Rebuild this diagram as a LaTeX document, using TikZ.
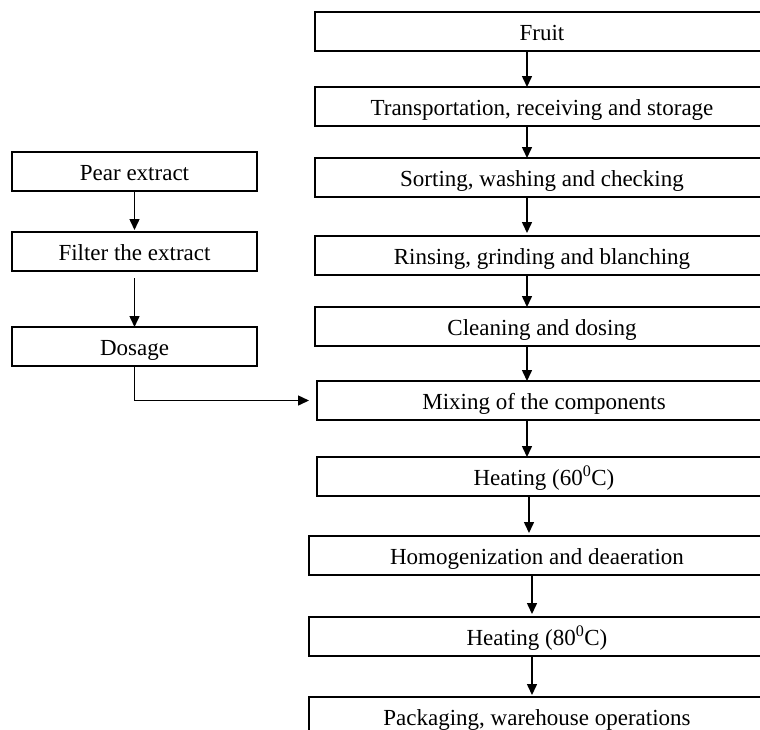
\documentclass[tikz,border=0pt]{standalone}
\usepackage{fontspec}
\setmainfont{Liberation Serif}
\usetikzlibrary{arrows.meta}
\begin{document}
\begin{tikzpicture}[x=1pt,y=-1pt,
  stepbox/.style={draw, line width=1.5pt, anchor=north west, minimum width=#1,
    text height=28.5pt, text depth=10.5pt, inner ysep=0pt, inner xsep=0pt, outer sep=0pt,
    font=\fontsize{23pt}{27pt}\selectfont},
  arr/.style={line width=1.5pt, -{Triangle[length=11pt,width=10pt]}}]
\useasboundingbox (0,0) rectangle (760,729);
\clip (0,0) rectangle (760,729);
% main chain
\node[stepbox=454pt] (fruit) at (315,12) {Fruit};
\node[stepbox=454pt] (trans) at (315,87) {Transportation, receiving and storage};
\node[stepbox=454pt] (sort) at (315,158) {Sorting, washing and checking};
\node[stepbox=454pt] (rins) at (315,236) {Rinsing, grinding and blanching};
\node[stepbox=454pt] (clean) at (315,307) {Cleaning and dosing};
\node[stepbox=454pt] (mix) at (317,381) {Mixing of the components};
\node[stepbox=454pt] (heatA) at (317,457) {Heating (60\textsuperscript{0}C)};
\node[stepbox=456pt] (homog) at (309,536) {Homogenization and deaeration};
\node[stepbox=456pt] (heatB) at (309,617) {Heating (80\textsuperscript{0}C)};
\node[stepbox=456pt] (pack) at (309,697) {Packaging, warehouse operations};
% left chain
\node[stepbox=245pt] (pear) at (12,152) {Pear extract};
\node[stepbox=245pt] (filter) at (12,232) {Filter the extract};
\node[stepbox=245pt] (dosage) at (12,327) {Dosage};
% arrow x positions
\coordinate (xa) at (527,0);
\coordinate (xb) at (529,0);
\coordinate (xc) at (532,0);
% connectors
\draw[arr] (fruit.south -| xa) -- (trans.north -| xa);
\draw[arr] (trans.south -| xa) -- (sort.north -| xa);
\draw[arr, shorten >=3pt] (sort.south -| xa) -- (rins.north -| xa);
\draw[arr] (rins.south -| xa) -- (clean.north -| xa);
\draw[arr] (clean.south -| xa) -- (mix.north -| xa);
\draw[arr] (mix.south -| xa) -- (heatA.north -| xa);
\draw[arr, shorten >=3pt] (heatA.south -| xb) -- (homog.north -| xb);
\draw[arr, shorten >=3pt] (homog.south -| xc) -- (heatB.north -| xc);
\draw[arr, shorten >=2pt] (heatB.south -| xc) -- (pack.north -| xc);
\draw[arr, shorten >=2pt] (pear.south) -- (filter.north);
\draw[arr, shorten <=7pt] (filter.south) -- (dosage.north);
\draw[arr, shorten >=8pt] (dosage.south) |- (mix.west);
\end{tikzpicture}
\end{document}
